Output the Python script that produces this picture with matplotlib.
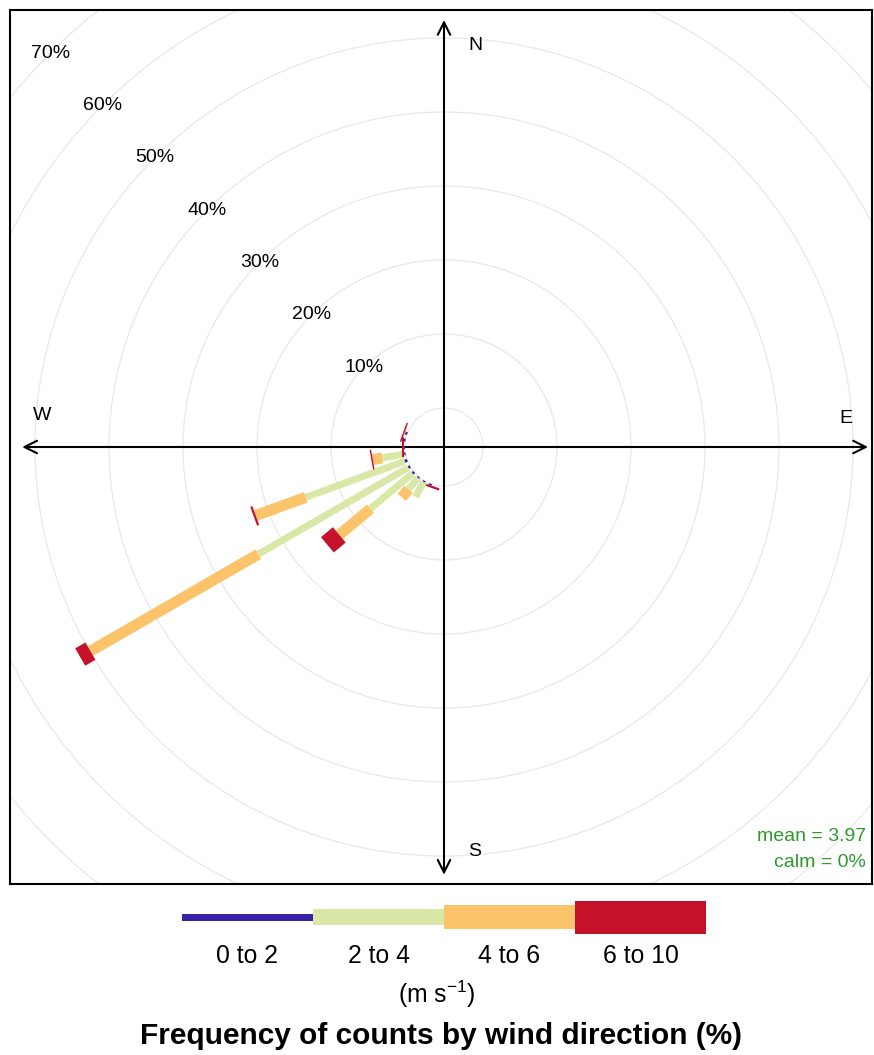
#!usr/bin/env python

import numpy as np
import matplotlib
matplotlib.use('Agg')
import matplotlib.pyplot as plt
from matplotlib.patches import Polygon, Circle, Rectangle

#---------------------------------------
plt.rcParams['font.family'] = ['Liberation Sans', 'DejaVu Sans']
plt.rcParams['mathtext.fontset'] = 'custom'
plt.rcParams['mathtext.rm'] = 'Liberation Sans'
plt.rcParams['mathtext.it'] = 'Liberation Sans'

# wind directions (deg) and frequency (%) per speed interval
directions = [200, 210, 220, 230, 240, 250, 260, 270, 280, 290]
freq_0_2 = [0.2, 0.2, 0.2, 0.3, 0.3, 0.4, 0.2, 0.1, 0.3, 0.3]
freq_2_4 = [0.0, 2.3, 2.0, 7.4, 23.4, 14.2, 3.0, 0.0, 0.0, 0.0]
freq_4_6 = [0.0, 0.0, 1.4, 5.5, 26.2, 7.2, 1.3, 0.0, 0.0, 0.1]
freq_6_10 = [0.3, 0.0, 0.0, 2.1, 1.6, 0.3, 0.2, 0.3, 0.0, 0.2]

speed_labels = ['0 to 2', '2 to 4', '4 to 6', '6 to 10']
speed_cols = ['#3a22a6', '#d9e8a6', '#fbc36a', '#c4122a']
ring_levels = [10, 20, 30, 40, 50, 60, 70]
mean_ws = 3.97
calm = 0

#---------------------------------------
px = 7.4            # pixels per percent
offset = 39 / px    # empty centre
paddle_w = [3 / px, 7 / px, 11 / px, 20 / px]

fig = plt.figure(figsize=(8.74, 10.55), dpi=100)

# legend / title layer in pixel coords
lax = fig.add_axes([0, 0, 1, 1])
lax.set_xlim(0, 874)
lax.set_ylim(1055, 0)
lax.axis('off')

ax = fig.add_axes([10 / 874, 171 / 1055, 862 / 874, 874 / 1055])
ax.set_xlim(-434 / px, 428 / px)
ax.set_ylim(-437 / px, 437 / px)
ax.set_xticks([])
ax.set_yticks([])
for s in ax.spines.values():
    s.set_linewidth(1.5)

# grid circles
for lev in range(0, 90, 10):
    ax.add_patch(Circle((0, 0), offset + lev, fill=False, ec='#e8e8e8', lw=0.9, zorder=1))

for lev in ring_levels:
    r = offset + lev
    ax.text(-r / np.sqrt(2), r / np.sqrt(2), '%d%%' % lev, ha='center', va='center',
            fontsize=14, zorder=5)

# axes arrows
arrow = dict(arrowstyle='<->,head_length=0.9,head_width=0.45', lw=1.5, color='black',
             shrinkA=0, shrinkB=0)
ax.annotate('', xy=(-57.0, 0), xytext=(57.3, 0), arrowprops=arrow, zorder=2)
ax.annotate('', xy=(0, 57.7), xytext=(0, -57.8), arrowprops=arrow, zorder=2)
ax.text(4.3, 54.3, 'N', fontsize=14, ha='center', va='center')
ax.text(4.1, -54.7, 'S', fontsize=14, ha='center', va='center')
ax.text(-54.3, 4.3, 'W', fontsize=14, ha='center', va='center')
ax.text(54.3, 3.9, 'E', fontsize=14, ha='center', va='center')

# paddles
freqs = np.array([freq_0_2, freq_2_4, freq_4_6, freq_6_10])
cum = np.vstack([np.zeros(len(directions)), np.cumsum(freqs, axis=0)])
for j, d in enumerate(directions):
    th = np.radians(d)
    u = np.array([np.sin(th), np.cos(th)])
    v = np.array([np.cos(th), -np.sin(th)])
    for k in range(4):
        if freqs[k, j] <= 0:
            continue
        r0 = offset + cum[k, j]
        r1 = offset + cum[k + 1, j]
        w = paddle_w[k] / 2
        pts = [r0 * u + w * v, r1 * u + w * v, r1 * u - w * v, r0 * u - w * v]
        ax.add_patch(Polygon(pts, closed=True, fc=speed_cols[k], ec='none', zorder=3))

ax.text(57.0, -52.6, 'mean = %.2f' % mean_ws, color='#2e9a2e', fontsize=14, ha='right', va='center')
ax.text(57.0, -56.2, 'calm = %d%%' % calm, color='#2e9a2e', fontsize=14, ha='right', va='center')

# legend key
heights = [7, 16, 24, 33]
seg = 131
x0 = 182
for k in range(4):
    lax.add_patch(Rectangle((x0 + k * seg, 917 - heights[k] / 2), seg, heights[k],
                            fc=speed_cols[k], ec='none'))
    lax.text(x0 + k * seg + seg / 2, 956, speed_labels[k], ha='center', va='center', fontsize=17.8)
lax.text(437, 994, '(m s$^{-1}$)', ha='center', va='center', fontsize=17.8)
lax.text(441, 1036, 'Frequency of counts by wind direction (%)', ha='center', va='center',
         fontsize=21.5, fontweight='bold')

fig.savefig('out.png', dpi=100)
